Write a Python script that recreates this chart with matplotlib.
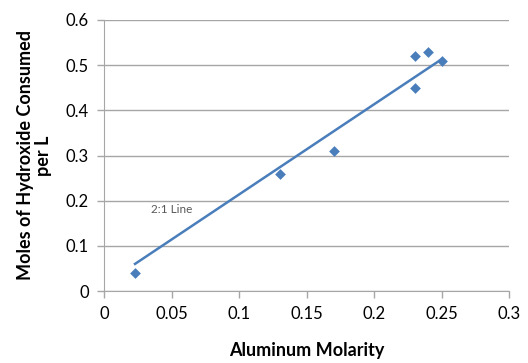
import matplotlib
matplotlib.use("Agg")
import matplotlib.pyplot as plt

plt.rcParams['font.family'] = ['Lato', 'DejaVu Sans']

# measured points
molarity = [0.023, 0.13, 0.17, 0.23, 0.23, 0.24, 0.25]
hydroxide = [0.04, 0.26, 0.31, 0.52, 0.45, 0.53, 0.51]

# 2:1 reference line endpoints
line_x = [0.023, 0.25]
line_y = [0.06, 0.513]

x_ticks = [0, 0.05, 0.1, 0.15, 0.2, 0.25, 0.3]
x_labels = ['0', '0.05', '0.1', '0.15', '0.2', '0.25', '0.3']
y_ticks = [0, 0.1, 0.2, 0.3, 0.4, 0.5, 0.6]
y_labels = ['0', '0.1', '0.2', '0.3', '0.4', '0.5', '0.6']

blue = '#4a7ebb'
grey = '#a6a6a6'

fig = plt.figure(figsize=(5.28, 3.63), dpi=100)
ax = fig.add_axes([104 / 528, 1 - 291 / 363, 405 / 528, 271 / 363])

ax.plot(line_x, line_y, color=blue, lw=1.8, zorder=3)
ax.scatter(molarity, hydroxide, marker='D', s=30, color=blue, zorder=4, linewidths=0)
ax.text(0.035, 0.172, '2:1 Line', fontsize=8.5, color='#595959')

ax.set_xlim(0, 0.3)
ax.set_ylim(0, 0.6)
ax.set_xticks(x_ticks)
ax.set_xticklabels(x_labels)
ax.set_yticks(y_ticks)
ax.set_yticklabels(y_labels)
ax.tick_params(axis='both', labelsize=12, color=grey, length=5, width=1, pad=6)

ax.grid(axis='y', color=grey, lw=1)
ax.set_axisbelow(True)
for side in ['top', 'right']:
    ax.spines[side].set_visible(False)
for side in ['left', 'bottom']:
    ax.spines[side].set_color(grey)

ax.set_xlabel('Aluminum Molarity', fontsize=13, fontweight='bold', labelpad=14)
ax.set_ylabel('Moles of Hydroxide Consumed\nper L', fontsize=13, fontweight='bold',
              labelpad=10, linespacing=1.05)

fig.savefig('out.png', dpi=100)
